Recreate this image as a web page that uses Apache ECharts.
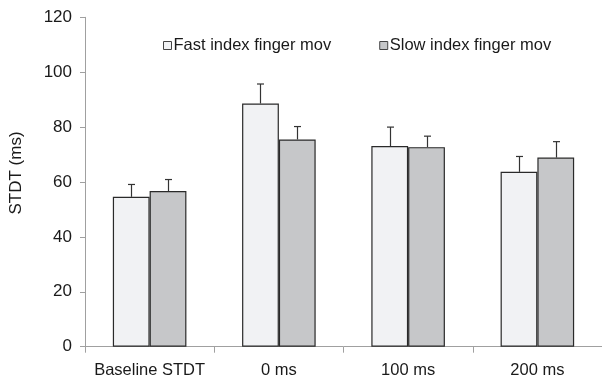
<!DOCTYPE html>
<html>
<head>
<meta charset="utf-8">
<script src="https://cdn.jsdelivr.net/npm/echarts@6/dist/echarts.min.js"></script>
<style>html,body{margin:0;padding:0;background:#fff;}#c{width:602px;height:381px;}</style>
</head>
<body>
<div id="c"></div>
<script>
var categories = ['Baseline STDT', '0 ms', '100 ms', '200 ms'];
var fastMean = [54.6, 88.6, 73.1, 63.7];
var fastErr = [4.5, 7.1, 6.9, 5.6];
var slowMean = [56.7, 75.5, 72.7, 68.9];
var slowErr = [4.2, 4.7, 4.0, 5.8];
var yTicks = [0, 20, 40, 60, 80, 100, 120];

var BAR_FRAC = 0.2846;
function errSeries(means, errs, sign) {
  return {
    type: 'custom',
    silent: true,
    z: 1,
    data: means.map(function (m, i) { return [i, m, m + errs[i]]; }),
    renderItem: function (params, api) {
      var cw = api.size([1, 0])[0];
      var bw = cw * BAR_FRAC;
      var p0 = api.coord([api.value(0), api.value(1)]);
      var p1 = api.coord([api.value(0), api.value(2)]);
      var x = Math.round(p0[0] + sign * bw / 2) + 0.5;
      var st = { stroke: '#333', lineWidth: 1.2 };
      return {
        type: 'group',
        children: [
          { type: 'line', shape: { x1: x, y1: p0[1], x2: x, y2: p1[1] }, style: st },
          { type: 'line', shape: { x1: x - 3.5, y1: p1[1], x2: x + 3.5, y2: p1[1] }, style: st }
        ]
      };
    }
  };
}

var chart = echarts.init(document.getElementById('c'));
chart.setOption({
  animation: false,
  grid: { left: 85, top: 17.3, width: 520, bottom: 34.3, containLabel: false },
  legend: {
    left: 158, top: 32, itemWidth: 8, itemHeight: 8, itemGap: 48,
    icon: 'rect',
    itemStyle: { borderWidth: 1, borderColor: '#444' },
    textStyle: { fontFamily: 'Liberation Sans, Arial', fontSize: 16.5, color: '#1a1a1a', padding: [0, 0, 0, -3] },
    data: ['Fast index finger mov', 'Slow index finger mov']
  },
  xAxis: {
    type: 'category',
    data: categories,
    axisLine: { lineStyle: { color: '#a0a0a0', width: 1 } },
    axisTick: { show: true, interval: 0, length: 6, lineStyle: { color: '#a0a0a0' } },
    axisLabel: { interval: 0, hideOverlap: false, fontFamily: 'Liberation Sans, Arial', fontSize: 16.5, color: '#1a1a1a', margin: 15 }
  },
  yAxis: {
    type: 'value', min: 0, max: 120, interval: 20,
    name: 'STDT (ms)', nameLocation: 'middle', nameRotate: 90, nameGap: 60,
    nameTextStyle: { fontFamily: 'Liberation Sans, Arial', fontSize: 17, color: '#1a1a1a', padding: [0, 0, 0, 18] },
    splitLine: { show: false },
    axisLine: { show: true, lineStyle: { color: '#a0a0a0', width: 1 } },
    axisTick: { show: true, length: 5, lineStyle: { color: '#a0a0a0' } },
    axisLabel: { fontFamily: 'Liberation Sans, Arial', fontSize: 17, color: '#1a1a1a', margin: 13,
      formatter: function (v) { return yTicks.indexOf(v) >= 0 ? String(v) : ''; } }
  },
  series: [
    { name: 'Fast index finger mov', type: 'bar', data: fastMean, barWidth: (BAR_FRAC * 100) + '%', barGap: '0%',
      itemStyle: { color: '#f1f2f4', borderColor: '#2a2a2a', borderWidth: 1.2 }, z: 2 },
    { name: 'Slow index finger mov', type: 'bar', data: slowMean, barWidth: (BAR_FRAC * 100) + '%', barGap: '0%',
      itemStyle: { color: '#c6c7c9', borderColor: '#2a2a2a', borderWidth: 1.2 }, z: 2 },
    errSeries(fastMean, fastErr, -1),
    errSeries(slowMean, slowErr, 1)
  ]
});
</script>
</body>
</html>
